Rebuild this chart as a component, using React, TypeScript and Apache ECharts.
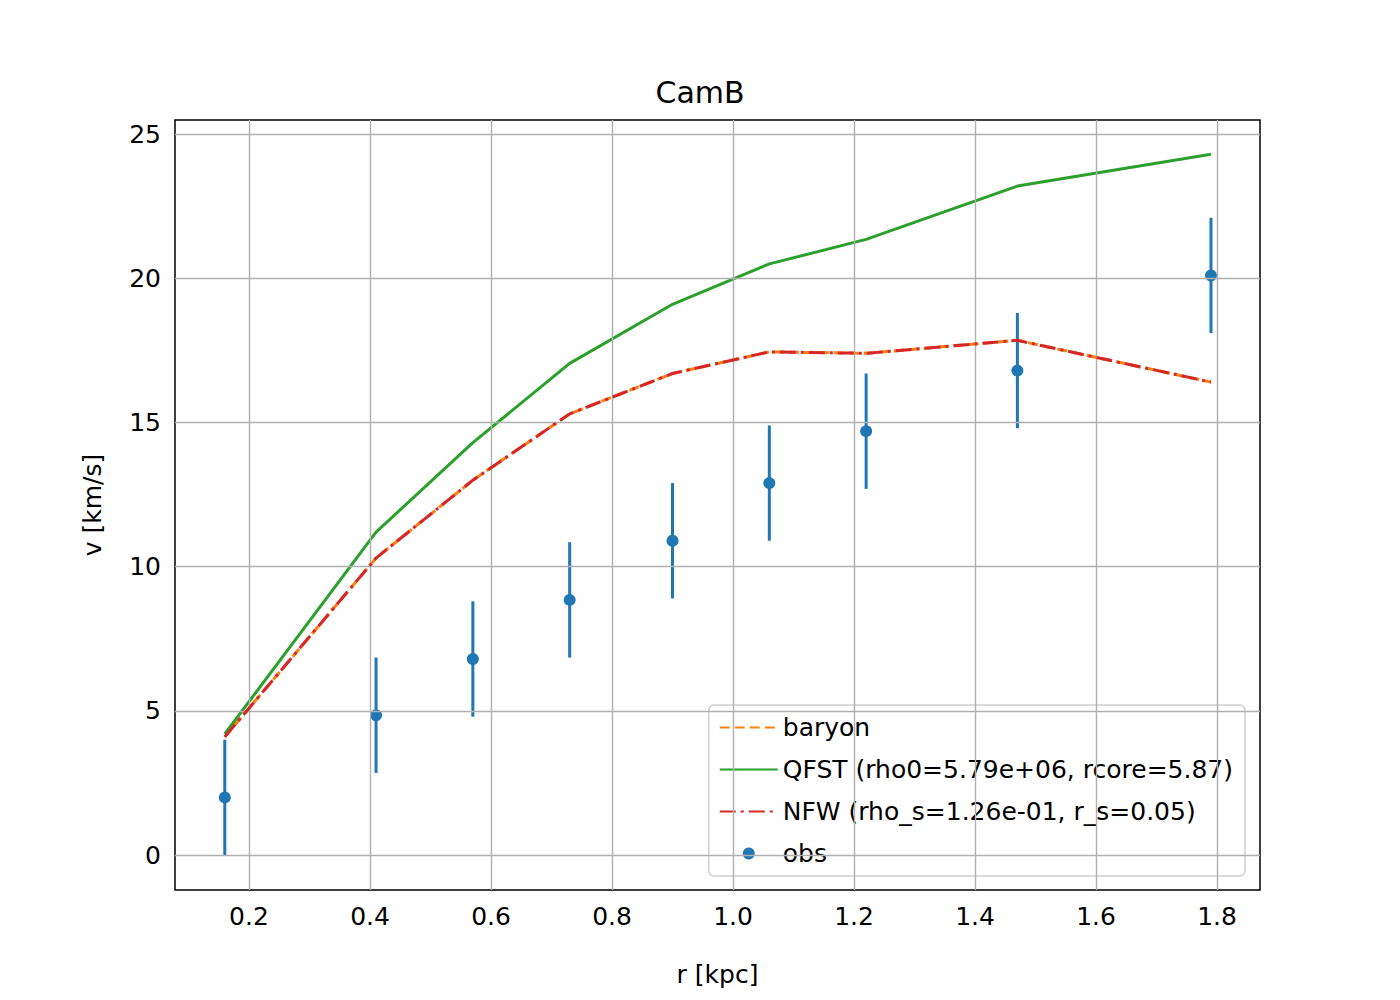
import { useEffect, useRef } from 'react';
import * as echarts from 'echarts';

const radii = [0.16, 0.41, 0.57, 0.73, 0.9, 1.06, 1.22, 1.47, 1.79];
const obsV = [2.0, 4.85, 6.8, 8.85, 10.9, 12.9, 14.7, 16.8, 20.1];
const obsErr = [2, 2, 2, 2, 2, 2, 2, 2, 2];
const qfstV = [4.2, 11.2, 14.3, 17.05, 19.1, 20.5, 21.35, 23.2, 24.3];
const baryonV = [4.1, 10.3, 13.0, 15.3, 16.7, 17.45, 17.4, 17.85, 16.4];
const nfwV = [4.1, 10.3, 13.0, 15.3, 16.7, 17.45, 17.4, 17.85, 16.4];

const xTicks = [0.2, 0.4, 0.6, 0.8, 1.0, 1.2, 1.4, 1.6, 1.8];
const yTicks = [0, 5, 10, 15, 20, 25];

const X_MIN = 0.0777;
const X_MAX = 1.871;
const Y_MIN = -1.21;
const Y_MAX = 25.49;

const FONT = 'DejaVu Sans';

export default function App() {
  const chartRef = useRef<HTMLDivElement>(null);

  useEffect(() => {
    if (!chartRef.current) return;
    const chart = echarts.init(chartRef.current, null, { renderer: 'svg' });

    const pairs = (ys: number[]) => radii.map((r, i) => [r, ys[i]]);
    const gridStyle = { color: '#b0b0b0', width: 1.4, type: 'solid' as const };
    const tickStyle = { color: '#000', width: 1.4, type: 'solid' as const };
    const labelStyle = { fontFamily: FONT, fontSize: 25, color: '#000' };

    // grid lines + labels + tick marks drawn at the real tick values
    const markData: any[] = [];
    xTicks.forEach((t) => {
      markData.push([
        { coord: [t, Y_MIN], lineStyle: gridStyle, label: { show: true, position: 'start', distance: 14, formatter: t.toFixed(1), ...labelStyle } },
        { coord: [t, Y_MAX] },
      ]);
      markData.push([
        { coord: [t, Y_MIN], lineStyle: tickStyle, label: { show: false } },
        { coord: [t, Y_MIN - 0.36] },
      ]);
    });
    yTicks.forEach((t) => {
      markData.push([
        { coord: [X_MIN, t], lineStyle: gridStyle, label: { show: true, position: 'start', distance: 14, formatter: String(t), ...labelStyle } },
        { coord: [X_MAX, t] },
      ]);
      markData.push([
        { coord: [X_MIN, t], lineStyle: tickStyle, label: { show: false } },
        { coord: [X_MIN - 0.0165, t] },
      ]);
    });

    const option: echarts.EChartsOption = {
      animation: false,
      backgroundColor: '#fff',
      textStyle: { fontFamily: FONT },
      title: {
        text: 'CamB',
        left: 'center',
        top: 72,
        textStyle: { fontFamily: FONT, fontSize: 30, fontWeight: 'normal', color: '#000' },
      },
      grid: { left: 175, right: 140, top: 120, bottom: 110, show: true, borderColor: '#000', borderWidth: 1.5, backgroundColor: 'transparent' },
      xAxis: {
        type: 'value',
        min: X_MIN,
        max: X_MAX,
        name: 'r [kpc]',
        nameLocation: 'middle',
        nameGap: 72,
        nameTextStyle: { fontFamily: FONT, fontSize: 25, color: '#000' },
        axisLine: { show: false },
        axisTick: { show: false },
        axisLabel: { show: false },
        splitLine: { show: false },
      },
      yAxis: {
        type: 'value',
        min: Y_MIN,
        max: Y_MAX,
        name: 'v [km/s]',
        nameLocation: 'middle',
        nameGap: 70,
        nameTextStyle: { fontFamily: FONT, fontSize: 25, color: '#000' },
        axisLine: { show: false },
        axisTick: { show: false },
        axisLabel: { show: false },
        splitLine: { show: false },
      },
      legend: {
        orient: 'vertical',
        right: 155,
        bottom: 124,
        padding: [10, 12, 10, 10],
        itemGap: 17,
        itemWidth: 58,
        itemHeight: 12,
        backgroundColor: 'rgba(255,255,255,0.8)',
        borderColor: '#d0d0d0',
        borderWidth: 1.5,
        borderRadius: 5,
        textStyle: { fontFamily: FONT, fontSize: 25, color: '#000' },
        data: [
          { name: 'baryon', itemStyle: { opacity: 0 } },
          { name: 'QFST (rho0=5.79e+06, rcore=5.87)', itemStyle: { opacity: 0 } },
          { name: 'NFW (rho_s=1.26e-01, r_s=0.05)', itemStyle: { opacity: 0 } },
          { name: 'obs', icon: 'circle', itemStyle: { color: '#1f77b4' } },
        ],
      },
      series: [
        {
          name: 'axes',
          type: 'line',
          data: [],
          silent: true,
          clip: false,
          markLine: {
            silent: true,
            symbol: 'none',
            animation: false,
            data: markData,
          },
          z: 1,
        },
        {
          name: 'obs',
          type: 'custom',
          silent: true,
          data: radii.map((r, i) => [r, obsV[i], obsErr[i]]),
          renderItem: (_params: any, api: any) => {
            const x = api.value(0);
            const y = api.value(1);
            const e = api.value(2);
            const p1 = api.coord([x, y - e]);
            const p2 = api.coord([x, y + e]);
            return {
              type: 'line',
              shape: { x1: p1[0], y1: p1[1], x2: p2[0], y2: p2[1] },
              style: { stroke: '#1f77b4', lineWidth: 3 },
            };
          },
          z: 2,
        },
        {
          name: 'obs',
          type: 'scatter',
          data: pairs(obsV),
          symbolSize: 12,
          itemStyle: { color: '#1f77b4', opacity: 1 },
          z: 3,
        },
        {
          name: 'baryon',
          type: 'line',
          data: pairs(baryonV),
          symbol: 'none',
          lineStyle: { color: '#ff7f0e', width: 3, type: [10, 5] },
          itemStyle: { color: '#ff7f0e' },
          z: 4,
        },
        {
          name: 'QFST (rho0=5.79e+06, rcore=5.87)',
          type: 'line',
          data: pairs(qfstV),
          symbol: 'none',
          lineStyle: { color: '#2ca02c', width: 3 },
          itemStyle: { color: '#2ca02c' },
          z: 4,
        },
        {
          name: 'NFW (rho_s=1.26e-01, r_s=0.05)',
          type: 'line',
          data: pairs(nfwV),
          symbol: 'none',
          lineStyle: { color: '#d62728', width: 3, type: [16, 5, 3, 5] },
          itemStyle: { color: '#d62728' },
          z: 5,
        },
      ],
    };

    chart.setOption(option);
    return () => chart.dispose();
  }, []);

  return (
    <div
      ref={chartRef}
      style={{ position: 'fixed', left: 0, top: 0, width: 1400, height: 1000 }}
    />
  );
}
